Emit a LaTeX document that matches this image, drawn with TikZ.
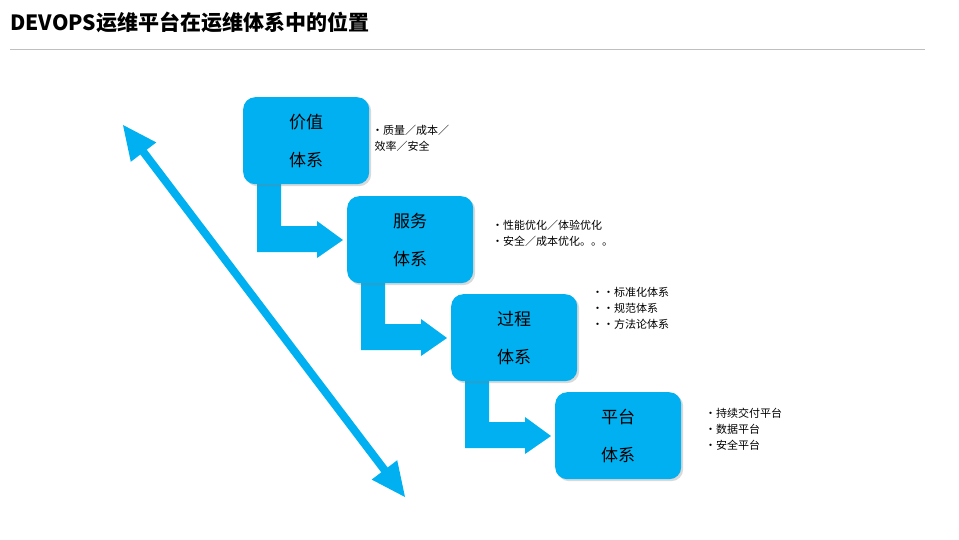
\documentclass[tikz,border=0pt]{standalone}
\usepackage{fontspec}
\setmainfont{Noto Sans CJK SC}
\usetikzlibrary{shadows,calc}
\definecolor{sky}{HTML}{00B0F0}
\begin{document}
\begin{tikzpicture}[x=1pt,y=-1pt,
 sysbox/.style={fill=sky,rounded corners=12pt,minimum width=126pt,minimum height=87pt,anchor=north west,inner sep=0pt,drop shadow={opacity=0.3,shadow xshift=2pt,shadow yshift=-2pt},align=center,font=\fontsize{17}{38}\selectfont},
 note/.style={anchor=north west,align=left,font=\fontsize{11}{16}\selectfont,inner sep=0pt},
 bent/.style={fill=sky}]
\useasboundingbox (0,0) rectangle (959,539);
\node[anchor=west,font=\bfseries\fontsize{21}{24}\selectfont,inner sep=0pt] (title) at (10,22) {DEVOPS运维平台在运维体系中的位置};
\draw[gray!50] (10,49) -- (925,49);
% bent arrows
\foreach \x/\y in {257/184,361/282,465/380}{
 \fill[sky] (\x,\y) -- (\x+24,\y) -- (\x+24,\y+42) -- (\x+60,\y+42) -- (\x+60,\y+37) -- (\x+86,\y+56) -- (\x+60,\y+74) -- (\x+60,\y+68) -- (\x,\y+68) -- cycle;
}
\node[sysbox] (b1) at (243,97) {价值\\体系};
\node[sysbox] (b2) at (347,196) {服务\\体系};
\node[sysbox] (b3) at (451,294) {过程\\体系};
\node[sysbox] (b4) at (555,392) {平台\\体系};
\node[note] (n1) at (372,125) {•质量／成本／\\\ 效率／安全};
\node[note] (n2) at (492,220) {•性能优化／体验优化\\•安全／成本优化。。。};
\node[note] (n3) at (592,287) {••标准化体系\\••规范体系\\••方法论体系};
\node[note] (n4) at (705,408) {•持续交付平台\\•数据平台\\•安全平台};
% double arrow
\coordinate (a1) at (123,125);
\coordinate (a2) at (405,497);
\draw[sky,line width=8pt,shorten <=30pt,shorten >=30pt] (a1) -- (a2);
\fill[sky] (a1) -- ($(a1)!34pt!(a2)!16pt!90:(a2)$) -- ($(a1)!34pt!(a2)!16pt!-90:(a2)$) -- cycle;
\fill[sky] (a2) -- ($(a2)!34pt!(a1)!16pt!90:(a1)$) -- ($(a2)!34pt!(a1)!16pt!-90:(a1)$) -- cycle;
\end{tikzpicture}
\end{document}
